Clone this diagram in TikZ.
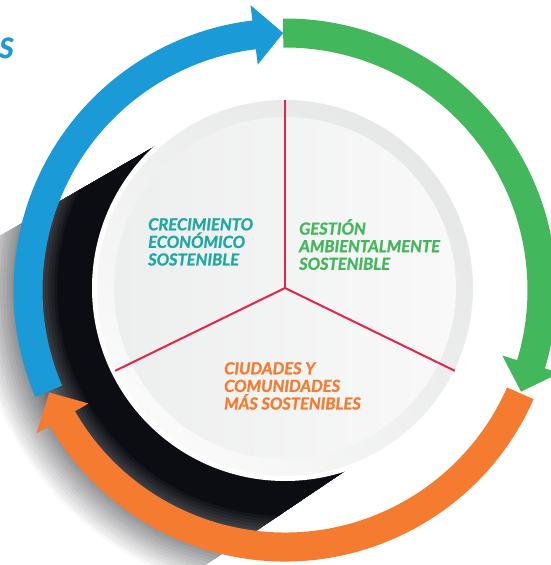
\documentclass[tikz,border=0pt]{standalone}
\usepackage{fontspec}
\setmainfont{Lato}[BoldItalicFeatures={FakeBold=1.2}]
\usetikzlibrary{calc, shadings}
\definecolor{ring_blue}{HTML}{1A9AD6}
\definecolor{ring_green}{HTML}{43B75B}
\definecolor{ring_orange}{HTML}{F47B30}
\definecolor{pillar_teal}{HTML}{1FA8A4}
\definecolor{spoke_red}{HTML}{E1264A}
\definecolor{ink}{HTML}{0B0D12}
\definecolor{rim_gray}{HTML}{E3E4E4}
\definecolor{disk_lo}{HTML}{EDEEEE}
\definecolor{disk_hi}{HTML}{F9F9F9}
\tikzstyle{pillar_text} = [anchor=north west, inner sep=0pt, align=left, font=\fontsize{16.5}{17.6}\selectfont\bfseries\itshape]
\tikzstyle{spoke} = [draw=spoke_red, line width=2pt]

\begin{document}
\begin{tikzpicture}[x=1pt, y=1pt]
        \useasboundingbox (-285,-277) rectangle (265,288);
        \coordinate (c) at (0,0);

        % long shadow behind the disk
        \coordinate (s1) at (129:190pt);
        \coordinate (s2) at (291:190pt);
        \begin{scope}
            \clip (s1) -- (s2) -- ++(214:600pt) -- ([shift={(210:600pt)}]s1) -- cycle;
            \foreach \r in {312,309,...,228} {
                \pgfmathtruncatemacro\p{(312-\r)*100/84}
                \fill[ink!\p!white] (c) circle[radius=\r pt];
            }
        \end{scope}

        % disk
        \fill[white] (c) circle[radius=193pt];
        \shade[lower left=white, upper left=rim_gray!60, lower right=rim_gray!60, upper right=rim_gray] (c) circle[radius=188pt];
        \shade[left color=disk_lo, right color=disk_hi] (c) circle[radius=171pt];

        \coordinate (y1) at (90:188pt);
        \coordinate (y2) at (-26:189pt);
        \coordinate (y3) at (206:189pt);
        \draw[spoke] (c) -- (y1);
        \draw[spoke] (c) -- (y2);
        \draw[spoke] (c) -- (y3);

        \node(eco) [pillar_text, text=pillar_teal] at (-137,70) {CRECIMIENTO\\ECONÓMICO\\SOSTENIBLE};
        \node(amb) [pillar_text, text=ring_green] at (14,69) {GESTIÓN\\AMBIENTALMENTE\\SOSTENIBLE};
        \node(ciu) [pillar_text, text=ring_orange] at (-61,-74) {CIUDADES Y\\COMUNIDADES\\MÁS SOSTENIBLES};

        % ring of arrows
        \begin{scope}[shift={(0,-2)}]
            \foreach \col/\tail/\tip in {ring_blue/203.2/90.4, ring_green/90.4/-23.3, ring_orange/-23.7/-156.5} {
                \pgfmathsetmacro\hb{\tip+6.5}
                \fill[\col] (\tail:271.5pt) arc[start angle=\tail, end angle=\hb, radius=271.5pt]
                    -- (\hb:287pt) -- (\tip:257pt) -- (\hb:227pt) -- (\hb:242.5pt)
                    arc[start angle=\hb, end angle=\tail, radius=242.5pt] -- cycle;
            }
        \end{scope}

        \node(title) [anchor=base west, inner sep=0pt, text=ring_blue, font=\fontsize{28}{30}\selectfont\bfseries\itshape] at (-286,230) {S};
    \end{tikzpicture}
\end{document}
